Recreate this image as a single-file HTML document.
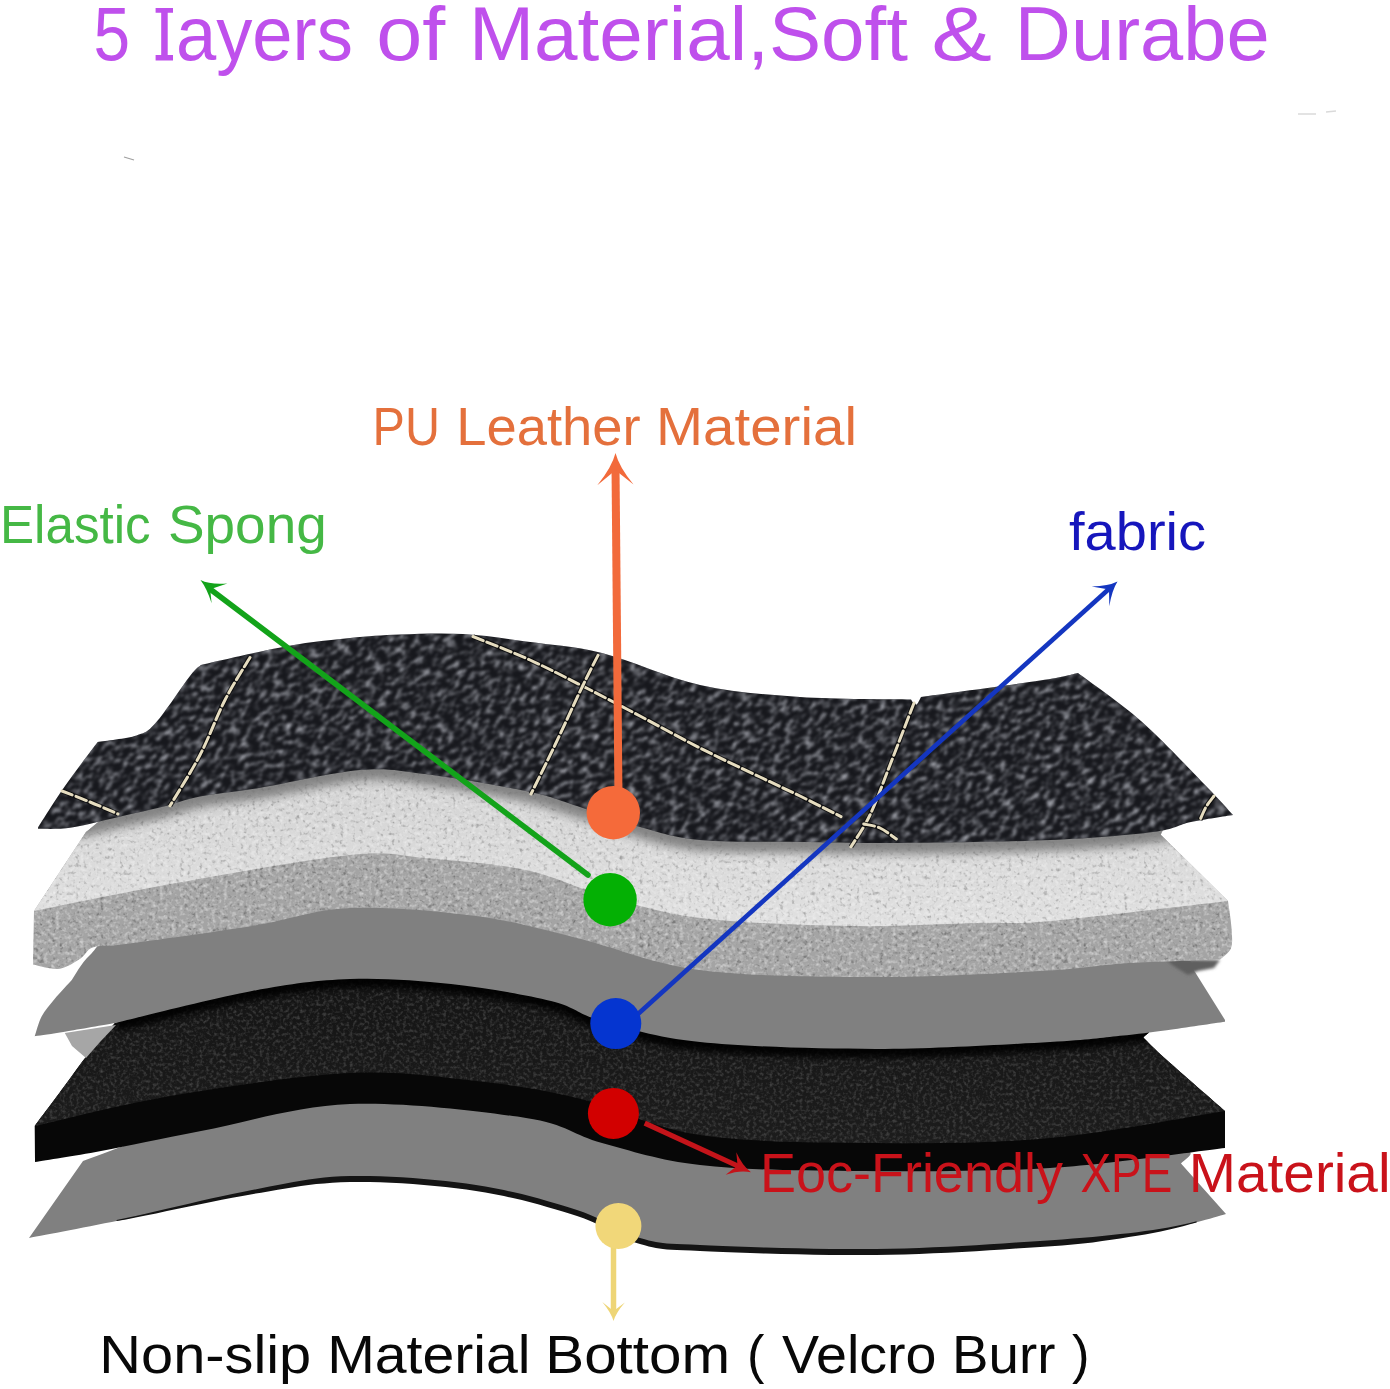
<!DOCTYPE html>
<html><head><meta charset="utf-8">
<style>
html,body{margin:0;padding:0;background:#fff;width:1390px;height:1389px;overflow:hidden}
svg{position:absolute;left:0;top:0;display:block}
text{font-family:"Liberation Sans",sans-serif}
</style></head>
<body>
<svg width="1390" height="1389" viewBox="0 0 1390 1389">


<defs>
<filter id="tLeather" filterUnits="userSpaceOnUse" x="-200" y="200" width="1800" height="1100">
  <feTurbulence type="fractalNoise" baseFrequency="0.11 0.2" numOctaves="3" seed="7" result="n"/>
  <feColorMatrix in="n" type="matrix" values="0 0 0 0 0.34  0 0 0 0 0.35  0 0 0 0 0.39  2.6 0 0 0 -1.18" result="c"/>
  <feGaussianBlur in="c" stdDeviation="0.9" result="cb"/>
  <feComposite in="cb" in2="SourceGraphic" operator="in"/>
</filter>
<clipPath id="cLeather"><path d="M38.0,827.5 C42.5,820.6 55.0,800.2 65.0,786.0 C75.0,771.8 92.2,749.3 97.7,742.0 C104.2,740.9 126.9,738.7 136.6,735.5 C146.3,732.3 147.1,732.5 156.0,722.6 C164.9,712.7 182.5,685.6 190.0,676.0 C197.5,666.4 199.2,666.8 201.0,665.0 C215.5,661.8 263.2,650.5 288.0,646.0 C312.8,641.5 331.3,639.9 350.0,638.0 C368.7,636.1 381.2,635.2 400.0,634.5 C418.8,633.8 442.0,632.8 463.0,634.0 C484.0,635.2 502.8,638.3 526.0,641.5 C549.2,644.7 573.0,645.8 602.0,653.0 C631.0,660.2 667.0,677.7 700.0,685.0 C733.0,692.3 764.8,694.6 800.0,697.0 C835.2,699.4 892.5,699.1 911.0,699.5 C911.8,700.4 914.3,705.4 916.0,705.0 C917.7,704.6 920.2,698.3 921.0,697.0 C940.8,694.3 1013.8,684.6 1040.0,680.6 C1066.2,676.6 1071.7,674.3 1078.0,673.0 C1088.5,681.0 1119.7,702.2 1141.0,721.0 C1162.3,739.8 1190.7,770.3 1206.0,786.0 C1221.3,801.7 1228.5,810.2 1233.0,815.0 C1226.0,816.2 1204.3,819.2 1191.0,822.0 C1177.7,824.8 1176.5,829.0 1153.0,832.0 C1129.5,835.0 1092.0,838.2 1050.0,840.0 C1008.0,841.8 942.7,842.7 901.0,843.0 C859.3,843.3 833.5,842.5 800.0,842.0 C766.5,841.5 726.7,842.5 700.0,840.0 C673.3,837.5 660.5,832.7 640.0,827.0 C619.5,821.3 596.0,812.0 577.0,806.0 C558.0,800.0 551.3,796.3 526.0,791.0 C500.7,785.7 452.7,777.5 425.0,774.0 C397.3,770.5 387.7,767.7 360.0,770.0 C332.3,772.3 285.7,783.6 259.0,788.0 C232.3,792.4 216.1,793.3 200.0,796.4 C183.9,799.5 175.2,803.6 162.5,806.8 C149.8,810.0 138.7,812.3 123.6,815.8 C108.5,819.2 86.1,825.3 71.8,827.5 C57.5,829.7 43.6,828.6 38.0,828.8 Z"/></clipPath>
<filter id="tFoam" filterUnits="userSpaceOnUse" x="0" y="730" width="1390" height="270">
  <feTurbulence type="fractalNoise" baseFrequency="0.25" numOctaves="2" seed="11" result="n"/>
  <feColorMatrix in="n" type="matrix" values="0 0 0 0 1  0 0 0 0 1  0 0 0 0 1  2.2 0 0 0 -1.0" result="w"/>
  <feGaussianBlur in="w" stdDeviation="0.6" result="wb"/>
  <feComposite in="wb" in2="SourceGraphic" operator="in" result="wc"/>
  <feTurbulence type="fractalNoise" baseFrequency="0.25" numOctaves="2" seed="23" result="n2"/>
  <feColorMatrix in="n2" type="matrix" values="0 0 0 0 0  0 0 0 0 0  0 0 0 0 0  1.6 0 0 0 -0.85" result="b"/>
  <feGaussianBlur in="b" stdDeviation="0.6" result="bb"/>
  <feComposite in="bb" in2="SourceGraphic" operator="in" result="bc"/>
  <feMerge><feMergeNode in="wc"/><feMergeNode in="bc"/></feMerge>
</filter>
<filter id="tXpe" filterUnits="userSpaceOnUse" x="0" y="960" width="1390" height="220">
  <feTurbulence type="fractalNoise" baseFrequency="0.3" numOctaves="2" seed="5" result="n"/>
  <feColorMatrix in="n" type="matrix" values="0 0 0 0 0.2  0 0 0 0 0.2  0 0 0 0 0.2  1.0 0 0 0 -0.45" result="c"/>
  <feGaussianBlur in="c" stdDeviation="0.7" result="cb"/>
  <feComposite in="cb" in2="SourceGraphic" operator="in"/>
</filter>
<clipPath id="cFoamTop"><path d="M86.0,832.0 C92.3,827.7 105.0,813.7 124.0,806.0 C143.0,798.3 177.5,790.7 200.0,786.0 C222.5,781.3 232.3,782.3 259.0,778.0 C285.7,773.7 332.3,762.3 360.0,760.0 C387.7,757.7 397.3,760.5 425.0,764.0 C452.7,767.5 500.7,775.7 526.0,781.0 C551.3,786.3 558.0,790.0 577.0,796.0 C596.0,802.0 619.5,811.3 640.0,817.0 C660.5,822.7 673.3,827.5 700.0,830.0 C726.7,832.5 766.5,831.5 800.0,832.0 C833.5,832.5 859.3,833.3 901.0,833.0 C942.7,832.7 1008.0,831.8 1050.0,830.0 C1092.0,828.2 1134.5,821.2 1153.0,822.0 C1171.5,822.8 1159.7,832.8 1161.0,835.0 L1228.0,901.0 C1198.3,904.3 1091.8,917.3 1050.0,921.0 C1008.2,924.7 1010.2,922.2 977.0,923.0 C943.8,923.8 897.2,926.8 851.0,926.0 C804.8,925.2 741.5,923.2 700.0,918.0 C658.5,912.8 631.0,903.0 602.0,895.0 C573.0,887.0 555.5,876.2 526.0,870.0 C496.5,863.8 454.3,860.5 425.0,858.0 C395.7,855.5 391.5,850.8 350.0,855.0 C308.5,859.2 228.7,873.7 176.0,883.0 C123.3,892.3 57.7,906.3 34.0,911.0 L86.0,832.0 Z"/></clipPath>
<clipPath id="cXpeTop"><path d="M115.0,1023.0 C137.8,1016.0 212.8,990.0 252.0,981.0 C291.2,972.0 316.8,970.2 350.0,969.0 C383.2,967.8 417.5,970.3 451.0,974.0 C484.5,977.7 525.8,984.8 551.0,991.0 C576.2,997.2 577.2,1004.2 602.0,1011.0 C626.8,1017.8 654.3,1027.3 700.0,1032.0 C745.7,1036.7 817.7,1039.0 876.0,1039.0 C934.3,1039.0 1005.4,1034.0 1050.0,1032.0 C1094.6,1030.0 1127.8,1026.0 1143.4,1027.0 C1159.0,1028.0 1143.4,1035.9 1143.4,1037.7 C1147.3,1041.4 1153.2,1047.8 1166.8,1060.0 C1180.4,1072.2 1215.3,1102.5 1225.0,1111.0 C1195.8,1115.5 1108.2,1132.7 1050.0,1138.0 C991.8,1143.3 934.3,1143.5 876.0,1143.0 C817.7,1142.5 749.8,1142.5 700.0,1135.0 C650.2,1127.5 614.3,1107.0 577.0,1098.0 C539.7,1089.0 513.8,1085.2 476.0,1081.0 C438.2,1076.8 400.0,1070.7 350.0,1073.0 C300.0,1075.3 228.6,1086.2 176.0,1095.0 C123.4,1103.8 58.2,1120.8 34.7,1126.0 C39.4,1119.7 54.0,1100.2 63.0,1088.0 C72.0,1075.8 80.3,1063.8 89.0,1053.0 C97.7,1042.2 110.7,1028.0 115.0,1023.0 Z"/></clipPath>
<clipPath id="cFabric"><path d="M71.8,980.0 C74.8,975.8 81.0,963.3 90.0,955.0 C99.0,946.7 99.0,937.2 126.0,930.0 C153.0,922.8 214.7,918.0 252.0,912.0 C289.3,906.0 312.7,895.7 350.0,894.0 C387.3,892.3 438.2,897.0 476.0,902.0 C513.8,907.0 539.7,915.0 577.0,924.0 C614.3,933.0 650.2,949.5 700.0,956.0 C749.8,962.5 819.3,962.8 876.0,963.0 C932.7,963.2 991.5,960.2 1040.0,957.0 C1088.5,953.8 1141.0,941.5 1166.8,944.0 C1192.6,946.5 1190.3,967.3 1195.0,972.0 L1225.0,1020.0 L1225.0,1021.8 C1215.3,1023.2 1184.3,1027.9 1166.8,1030.2 C1149.3,1032.5 1139.5,1033.8 1120.0,1035.8 C1100.5,1037.8 1090.7,1039.8 1050.0,1042.0 C1009.3,1044.2 934.3,1049.0 876.0,1049.0 C817.7,1049.0 745.7,1046.7 700.0,1042.0 C654.3,1037.3 626.8,1027.8 602.0,1021.0 C577.2,1014.2 576.2,1007.2 551.0,1001.0 C525.8,994.8 484.5,987.7 451.0,984.0 C417.5,980.3 383.2,977.8 350.0,979.0 C316.8,980.2 291.2,983.7 252.0,991.0 C212.8,998.3 137.8,1017.7 115.0,1023.0 C106.6,1024.5 78.0,1029.5 64.8,1031.7 C51.6,1033.9 40.5,1035.3 35.6,1036.0 L34.7,1036.3 C35.9,1033.0 38.3,1022.6 41.6,1016.4 C44.9,1010.2 49.6,1005.1 54.6,999.0 C59.6,992.9 68.9,983.2 71.8,980.0 Z"/></clipPath>
<filter id="blur5" x="-10%" y="-50%" width="120%" height="200%"><feGaussianBlur stdDeviation="5"/></filter>
<filter id="blur1" x="-20%" y="-50%" width="140%" height="200%"><feGaussianBlur stdDeviation="1.5"/></filter>
<filter id="blur3" x="-10%" y="-50%" width="120%" height="200%"><feGaussianBlur stdDeviation="3"/></filter>
<linearGradient id="gFoamTop" x1="0" y1="0" x2="0" y2="1">
  <stop offset="0" stop-color="#d2d2d2"/>
  <stop offset="1" stop-color="#e0e0e0"/>
</linearGradient>
<linearGradient id="gXpeTop" x1="0" y1="0" x2="0" y2="1">
  <stop offset="0" stop-color="#141414"/>
  <stop offset="1" stop-color="#1c1c1c"/>
</linearGradient>
</defs>

<path d="M83.0,1161.0 C102.7,1154.3 156.5,1132.2 201.0,1121.0 C245.5,1109.8 295.8,1096.2 350.0,1094.0 C404.2,1091.8 484.0,1101.5 526.0,1108.0 C568.0,1114.5 573.0,1125.2 602.0,1133.0 C631.0,1140.8 658.5,1150.3 700.0,1155.0 C741.5,1159.7 792.7,1160.5 851.0,1161.0 C909.3,1161.5 995.0,1159.8 1050.0,1158.0 C1105.0,1156.2 1159.2,1149.1 1181.0,1150.0 C1202.8,1150.9 1181.0,1161.2 1181.0,1163.5 L1226.0,1214.0 C1213.8,1217.7 1184.0,1226.5 1153.0,1231.0 C1122.0,1235.5 1086.2,1238.8 1040.0,1242.0 C993.8,1245.2 932.7,1249.3 876.0,1250.0 C819.3,1250.7 739.3,1247.8 700.0,1246.0 C660.7,1244.2 660.5,1244.8 640.0,1239.0 C619.5,1233.2 604.3,1219.8 577.0,1211.0 C549.7,1202.2 513.8,1191.7 476.0,1186.0 C438.2,1180.3 387.3,1176.2 350.0,1177.0 C312.7,1177.8 289.3,1184.0 252.0,1191.0 C214.7,1198.0 163.2,1211.2 126.0,1219.0 C88.8,1226.8 45.2,1234.8 29.0,1238.0 L83.0,1161.0 Z" fill="#808080"/>
<path d="M116.6,1220.0 L126.0,1218.0 L135.6,1215.9 L145.6,1213.7 L156.1,1211.3 L166.9,1208.8 L177.9,1206.3 L188.9,1203.7 L200.0,1201.1 L211.0,1198.6 L221.8,1196.2 L232.3,1194.0 L242.4,1191.9 L252.0,1190.0 L261.1,1188.3 L269.6,1186.6 L277.8,1185.0 L285.7,1183.4 L293.4,1182.0 L301.0,1180.7 L308.6,1179.5 L316.3,1178.4 L324.2,1177.6 L332.4,1176.8 L340.9,1176.3 L350.0,1176.0 L359.6,1175.9 L369.7,1176.0 L380.1,1176.3 L390.9,1176.7 L401.8,1177.3 L412.8,1178.1 L423.9,1179.0 L434.8,1180.0 L445.6,1181.1 L456.1,1182.3 L466.3,1183.6 L476.0,1185.0 L485.4,1186.5 L494.7,1188.2 L503.9,1190.1 L512.9,1192.0 L521.8,1194.1 L530.4,1196.3 L538.9,1198.6 L547.1,1200.9 L555.0,1203.2 L562.7,1205.5 L570.0,1207.8 L577.0,1210.0 L583.6,1212.3 L589.7,1214.7 L595.5,1217.3 L600.9,1219.9 L606.1,1222.5 L611.1,1225.1 L615.9,1227.7 L620.6,1230.1 L625.4,1232.4 L630.1,1234.5 L635.0,1236.4 L640.0,1238.0 L644.7,1239.3 L648.8,1240.4 L652.5,1241.3 L655.9,1242.0 L659.3,1242.6 L662.9,1243.0 L666.9,1243.4 L671.5,1243.7 L676.9,1244.0 L683.3,1244.3 L690.9,1244.6 L700.0,1245.0 L710.6,1245.5 L722.8,1246.0 L736.1,1246.5 L750.5,1247.0 L765.7,1247.5 L781.5,1247.9 L797.6,1248.3 L813.9,1248.7 L830.1,1248.9 L846.0,1249.1 L861.4,1249.1 L876.0,1249.0 L890.2,1248.8 L904.6,1248.4 L919.0,1247.9 L933.4,1247.3 L947.8,1246.7 L961.9,1245.9 L975.9,1245.2 L989.6,1244.3 L1002.9,1243.5 L1015.8,1242.6 L1028.2,1241.8 L1040.0,1241.0 L1051.3,1240.2 L1062.2,1239.4 L1072.8,1238.6 L1082.9,1237.7 L1092.7,1236.9 L1102.2,1236.0 L1111.3,1235.1 L1120.2,1234.1 L1128.8,1233.2 L1137.1,1232.2 L1145.1,1231.1 L1153.0,1230.0 L1160.7,1228.8 L1168.3,1227.4 L1175.8,1226.0 L1183.0,1224.4 L1189.9,1222.9 L1196.6,1221.3 L1196.6,1222.5 L1189.9,1224.3 L1183.0,1226.2 L1175.8,1228.0 L1168.3,1229.8 L1160.7,1231.4 L1153.0,1233.0 L1145.1,1234.4 L1137.1,1235.8 L1128.8,1237.1 L1120.2,1238.5 L1111.3,1239.8 L1102.2,1241.1 L1092.7,1242.4 L1082.9,1243.6 L1072.8,1244.6 L1062.2,1245.4 L1051.3,1246.2 L1040.0,1247.0 L1028.2,1247.8 L1015.8,1248.6 L1002.9,1249.5 L989.6,1250.3 L975.9,1251.2 L961.9,1251.9 L947.8,1252.7 L933.4,1253.3 L919.0,1253.9 L904.6,1254.4 L890.2,1254.8 L876.0,1255.0 L861.4,1255.1 L846.0,1255.1 L830.1,1254.9 L813.9,1254.7 L797.6,1254.3 L781.5,1253.9 L765.7,1253.5 L750.5,1253.0 L736.1,1252.5 L722.8,1252.0 L710.6,1251.5 L700.0,1251.0 L690.9,1250.6 L683.3,1250.3 L676.9,1250.0 L671.5,1249.7 L666.9,1249.4 L662.9,1249.0 L659.3,1248.6 L655.9,1248.0 L652.5,1247.3 L648.8,1246.4 L644.7,1245.3 L640.0,1244.0 L635.0,1242.4 L630.1,1240.5 L625.4,1238.4 L620.6,1236.1 L615.9,1233.7 L611.1,1231.1 L606.1,1228.5 L600.9,1225.9 L595.5,1223.3 L589.7,1220.7 L583.6,1218.3 L577.0,1216.0 L570.0,1213.8 L562.7,1211.5 L555.0,1209.2 L547.1,1206.9 L538.9,1204.6 L530.4,1202.3 L521.8,1200.1 L512.9,1198.0 L503.9,1196.1 L494.7,1194.2 L485.4,1192.5 L476.0,1191.0 L466.3,1189.6 L456.1,1188.3 L445.6,1187.1 L434.8,1186.0 L423.9,1185.0 L412.8,1184.1 L401.8,1183.3 L390.9,1182.7 L380.1,1182.3 L369.7,1182.0 L359.6,1181.9 L350.0,1182.0 L340.9,1182.3 L332.4,1182.8 L324.2,1183.4 L316.3,1184.1 L308.6,1185.0 L301.0,1186.0 L293.4,1187.2 L285.7,1188.4 L277.8,1189.8 L269.6,1191.2 L261.1,1192.7 L252.0,1194.2 L242.4,1195.9 L232.3,1197.7 L221.8,1199.8 L211.0,1201.9 L200.0,1204.2 L188.9,1206.5 L177.9,1208.8 L166.9,1211.1 L156.1,1213.4 L145.6,1215.5 L135.6,1217.5 L126.0,1219.4 L116.6,1221.1 Z" fill="#141414"/>
<path d="M115.0,1023.0 C137.8,1016.0 212.8,990.0 252.0,981.0 C291.2,972.0 316.8,970.2 350.0,969.0 C383.2,967.8 417.5,970.3 451.0,974.0 C484.5,977.7 525.8,984.8 551.0,991.0 C576.2,997.2 577.2,1004.2 602.0,1011.0 C626.8,1017.8 654.3,1027.3 700.0,1032.0 C745.7,1036.7 817.7,1039.0 876.0,1039.0 C934.3,1039.0 1005.4,1034.0 1050.0,1032.0 C1094.6,1030.0 1127.8,1026.0 1143.4,1027.0 C1159.0,1028.0 1143.4,1035.9 1143.4,1037.7 C1147.3,1041.4 1153.2,1047.8 1166.8,1060.0 C1180.4,1072.2 1215.3,1102.5 1225.0,1111.0 L1225.0,1148.0 C1195.8,1151.3 1112.3,1164.2 1050.0,1168.0 C987.7,1171.8 909.3,1171.5 851.0,1171.0 C792.7,1170.5 741.5,1169.7 700.0,1165.0 C658.5,1160.3 631.0,1150.8 602.0,1143.0 C573.0,1135.2 568.0,1124.5 526.0,1118.0 C484.0,1111.5 404.2,1101.8 350.0,1104.0 C295.8,1106.2 242.5,1123.2 201.0,1131.0 C159.5,1138.8 128.7,1145.8 101.0,1151.0 C73.3,1156.2 46.0,1160.2 35.0,1162.0 L34.7,1126.0 C39.4,1119.7 54.0,1100.2 63.0,1088.0 C72.0,1075.8 80.3,1063.8 89.0,1053.0 C97.7,1042.2 110.7,1028.0 115.0,1023.0 Z" fill="#070707"/>
<path d="M115.0,1023.0 C137.8,1016.0 212.8,990.0 252.0,981.0 C291.2,972.0 316.8,970.2 350.0,969.0 C383.2,967.8 417.5,970.3 451.0,974.0 C484.5,977.7 525.8,984.8 551.0,991.0 C576.2,997.2 577.2,1004.2 602.0,1011.0 C626.8,1017.8 654.3,1027.3 700.0,1032.0 C745.7,1036.7 817.7,1039.0 876.0,1039.0 C934.3,1039.0 1005.4,1034.0 1050.0,1032.0 C1094.6,1030.0 1127.8,1026.0 1143.4,1027.0 C1159.0,1028.0 1143.4,1035.9 1143.4,1037.7 C1147.3,1041.4 1153.2,1047.8 1166.8,1060.0 C1180.4,1072.2 1215.3,1102.5 1225.0,1111.0 C1195.8,1115.5 1108.2,1132.7 1050.0,1138.0 C991.8,1143.3 934.3,1143.5 876.0,1143.0 C817.7,1142.5 749.8,1142.5 700.0,1135.0 C650.2,1127.5 614.3,1107.0 577.0,1098.0 C539.7,1089.0 513.8,1085.2 476.0,1081.0 C438.2,1076.8 400.0,1070.7 350.0,1073.0 C300.0,1075.3 228.6,1086.2 176.0,1095.0 C123.4,1103.8 58.2,1120.8 34.7,1126.0 C39.4,1119.7 54.0,1100.2 63.0,1088.0 C72.0,1075.8 80.3,1063.8 89.0,1053.0 C97.7,1042.2 110.7,1028.0 115.0,1023.0 Z" fill="url(#gXpeTop)"/>
<path d="M115.0,1023.0 C137.8,1016.0 212.8,990.0 252.0,981.0 C291.2,972.0 316.8,970.2 350.0,969.0 C383.2,967.8 417.5,970.3 451.0,974.0 C484.5,977.7 525.8,984.8 551.0,991.0 C576.2,997.2 577.2,1004.2 602.0,1011.0 C626.8,1017.8 654.3,1027.3 700.0,1032.0 C745.7,1036.7 817.7,1039.0 876.0,1039.0 C934.3,1039.0 1005.4,1034.0 1050.0,1032.0 C1094.6,1030.0 1127.8,1026.0 1143.4,1027.0 C1159.0,1028.0 1143.4,1035.9 1143.4,1037.7 C1147.3,1041.4 1153.2,1047.8 1166.8,1060.0 C1180.4,1072.2 1215.3,1102.5 1225.0,1111.0 C1195.8,1115.5 1108.2,1132.7 1050.0,1138.0 C991.8,1143.3 934.3,1143.5 876.0,1143.0 C817.7,1142.5 749.8,1142.5 700.0,1135.0 C650.2,1127.5 614.3,1107.0 577.0,1098.0 C539.7,1089.0 513.8,1085.2 476.0,1081.0 C438.2,1076.8 400.0,1070.7 350.0,1073.0 C300.0,1075.3 228.6,1086.2 176.0,1095.0 C123.4,1103.8 58.2,1120.8 34.7,1126.0 C39.4,1119.7 54.0,1100.2 63.0,1088.0 C72.0,1075.8 80.3,1063.8 89.0,1053.0 C97.7,1042.2 110.7,1028.0 115.0,1023.0 Z" fill="#000" filter="url(#tXpe)"/>
<g clip-path="url(#cXpeTop)"><path d="M1225.0,1021.8 C1215.3,1023.2 1184.3,1027.9 1166.8,1030.2 C1149.3,1032.5 1139.5,1033.8 1120.0,1035.8 C1100.5,1037.8 1090.7,1039.8 1050.0,1042.0 C1009.3,1044.2 934.3,1049.0 876.0,1049.0 C817.7,1049.0 745.7,1046.7 700.0,1042.0 C654.3,1037.3 626.8,1027.8 602.0,1021.0 C577.2,1014.2 576.2,1007.2 551.0,1001.0 C525.8,994.8 484.5,987.7 451.0,984.0 C417.5,980.3 383.2,977.8 350.0,979.0 C316.8,980.2 291.2,983.7 252.0,991.0 C212.8,998.3 137.8,1017.7 115.0,1023.0" fill="none" stroke="#000" stroke-width="18" filter="url(#blur3)" opacity="0.9"/></g>
<path d="M71.8,980.0 C74.8,975.8 81.0,963.3 90.0,955.0 C99.0,946.7 99.0,937.2 126.0,930.0 C153.0,922.8 214.7,918.0 252.0,912.0 C289.3,906.0 312.7,895.7 350.0,894.0 C387.3,892.3 438.2,897.0 476.0,902.0 C513.8,907.0 539.7,915.0 577.0,924.0 C614.3,933.0 650.2,949.5 700.0,956.0 C749.8,962.5 819.3,962.8 876.0,963.0 C932.7,963.2 991.5,960.2 1040.0,957.0 C1088.5,953.8 1141.0,941.5 1166.8,944.0 C1192.6,946.5 1190.3,967.3 1195.0,972.0 L1225.0,1020.0 L1225.0,1021.8 C1215.3,1023.2 1184.3,1027.9 1166.8,1030.2 C1149.3,1032.5 1139.5,1033.8 1120.0,1035.8 C1100.5,1037.8 1090.7,1039.8 1050.0,1042.0 C1009.3,1044.2 934.3,1049.0 876.0,1049.0 C817.7,1049.0 745.7,1046.7 700.0,1042.0 C654.3,1037.3 626.8,1027.8 602.0,1021.0 C577.2,1014.2 576.2,1007.2 551.0,1001.0 C525.8,994.8 484.5,987.7 451.0,984.0 C417.5,980.3 383.2,977.8 350.0,979.0 C316.8,980.2 291.2,983.7 252.0,991.0 C212.8,998.3 137.8,1017.7 115.0,1023.0 C106.6,1024.5 78.0,1029.5 64.8,1031.7 C51.6,1033.9 40.5,1035.3 35.6,1036.0 L34.7,1036.3 C35.9,1033.0 38.3,1022.6 41.6,1016.4 C44.9,1010.2 49.6,1005.1 54.6,999.0 C59.6,992.9 68.9,983.2 71.8,980.0 Z" fill="#808080"/>
<path d="M64.8,1033 L116,1025 L100,1042 L86,1058 L72,1046 Z" fill="#a6a6a6"/>
<path d="M1166,959 L1220,960 L1214,968 L1198,971 L1188,975 L1172,965 Z" fill="#5e5e5e" filter="url(#blur1)"/>
<path d="M86.0,832.0 C92.3,827.7 105.0,813.7 124.0,806.0 C143.0,798.3 177.5,790.7 200.0,786.0 C222.5,781.3 232.3,782.3 259.0,778.0 C285.7,773.7 332.3,762.3 360.0,760.0 C387.7,757.7 397.3,760.5 425.0,764.0 C452.7,767.5 500.7,775.7 526.0,781.0 C551.3,786.3 558.0,790.0 577.0,796.0 C596.0,802.0 619.5,811.3 640.0,817.0 C660.5,822.7 673.3,827.5 700.0,830.0 C726.7,832.5 766.5,831.5 800.0,832.0 C833.5,832.5 859.3,833.3 901.0,833.0 C942.7,832.7 1008.0,831.8 1050.0,830.0 C1092.0,828.2 1134.5,821.2 1153.0,822.0 C1171.5,822.8 1159.7,832.8 1161.0,835.0 L1228.0,901.0 C1228.6,905.5 1231.0,920.2 1231.5,928.0 C1232.0,935.8 1232.9,942.8 1231.0,948.0 C1229.1,953.2 1221.8,957.6 1220.0,959.5 C1213.3,959.8 1196.7,960.3 1180.0,961.0 C1163.3,961.7 1143.3,962.0 1120.0,963.7 C1096.7,965.4 1080.7,968.8 1040.0,971.0 C999.3,973.2 932.7,977.2 876.0,977.0 C819.3,976.8 749.8,976.5 700.0,970.0 C650.2,963.5 614.3,947.0 577.0,938.0 C539.7,929.0 513.8,921.0 476.0,916.0 C438.2,911.0 387.3,906.3 350.0,908.0 C312.7,909.7 289.3,920.0 252.0,926.0 C214.7,932.0 152.4,940.5 126.0,944.0 C99.6,947.5 101.0,944.9 93.4,947.3 C85.8,949.7 86.2,954.9 80.5,958.5 C74.8,962.1 66.8,967.9 58.9,968.9 C51.0,969.9 37.3,965.3 33.0,964.6 L34.0,911.0 L86.0,832.0 Z" fill="#a4a4a4"/>
<path d="M86.0,832.0 C92.3,827.7 105.0,813.7 124.0,806.0 C143.0,798.3 177.5,790.7 200.0,786.0 C222.5,781.3 232.3,782.3 259.0,778.0 C285.7,773.7 332.3,762.3 360.0,760.0 C387.7,757.7 397.3,760.5 425.0,764.0 C452.7,767.5 500.7,775.7 526.0,781.0 C551.3,786.3 558.0,790.0 577.0,796.0 C596.0,802.0 619.5,811.3 640.0,817.0 C660.5,822.7 673.3,827.5 700.0,830.0 C726.7,832.5 766.5,831.5 800.0,832.0 C833.5,832.5 859.3,833.3 901.0,833.0 C942.7,832.7 1008.0,831.8 1050.0,830.0 C1092.0,828.2 1134.5,821.2 1153.0,822.0 C1171.5,822.8 1159.7,832.8 1161.0,835.0 L1228.0,901.0 C1228.6,905.5 1231.0,920.2 1231.5,928.0 C1232.0,935.8 1232.9,942.8 1231.0,948.0 C1229.1,953.2 1221.8,957.6 1220.0,959.5 C1213.3,959.8 1196.7,960.3 1180.0,961.0 C1163.3,961.7 1143.3,962.0 1120.0,963.7 C1096.7,965.4 1080.7,968.8 1040.0,971.0 C999.3,973.2 932.7,977.2 876.0,977.0 C819.3,976.8 749.8,976.5 700.0,970.0 C650.2,963.5 614.3,947.0 577.0,938.0 C539.7,929.0 513.8,921.0 476.0,916.0 C438.2,911.0 387.3,906.3 350.0,908.0 C312.7,909.7 289.3,920.0 252.0,926.0 C214.7,932.0 152.4,940.5 126.0,944.0 C99.6,947.5 101.0,944.9 93.4,947.3 C85.8,949.7 86.2,954.9 80.5,958.5 C74.8,962.1 66.8,967.9 58.9,968.9 C51.0,969.9 37.3,965.3 33.0,964.6 L34.0,911.0 L86.0,832.0 Z" fill="#000" filter="url(#tFoam)" opacity="0.5"/>
<path d="M86.0,832.0 C92.3,827.7 105.0,813.7 124.0,806.0 C143.0,798.3 177.5,790.7 200.0,786.0 C222.5,781.3 232.3,782.3 259.0,778.0 C285.7,773.7 332.3,762.3 360.0,760.0 C387.7,757.7 397.3,760.5 425.0,764.0 C452.7,767.5 500.7,775.7 526.0,781.0 C551.3,786.3 558.0,790.0 577.0,796.0 C596.0,802.0 619.5,811.3 640.0,817.0 C660.5,822.7 673.3,827.5 700.0,830.0 C726.7,832.5 766.5,831.5 800.0,832.0 C833.5,832.5 859.3,833.3 901.0,833.0 C942.7,832.7 1008.0,831.8 1050.0,830.0 C1092.0,828.2 1134.5,821.2 1153.0,822.0 C1171.5,822.8 1159.7,832.8 1161.0,835.0 L1228.0,901.0 C1198.3,904.3 1091.8,917.3 1050.0,921.0 C1008.2,924.7 1010.2,922.2 977.0,923.0 C943.8,923.8 897.2,926.8 851.0,926.0 C804.8,925.2 741.5,923.2 700.0,918.0 C658.5,912.8 631.0,903.0 602.0,895.0 C573.0,887.0 555.5,876.2 526.0,870.0 C496.5,863.8 454.3,860.5 425.0,858.0 C395.7,855.5 391.5,850.8 350.0,855.0 C308.5,859.2 228.7,873.7 176.0,883.0 C123.3,892.3 57.7,906.3 34.0,911.0 L86.0,832.0 Z" fill="url(#gFoamTop)"/>
<path d="M86.0,832.0 C92.3,827.7 105.0,813.7 124.0,806.0 C143.0,798.3 177.5,790.7 200.0,786.0 C222.5,781.3 232.3,782.3 259.0,778.0 C285.7,773.7 332.3,762.3 360.0,760.0 C387.7,757.7 397.3,760.5 425.0,764.0 C452.7,767.5 500.7,775.7 526.0,781.0 C551.3,786.3 558.0,790.0 577.0,796.0 C596.0,802.0 619.5,811.3 640.0,817.0 C660.5,822.7 673.3,827.5 700.0,830.0 C726.7,832.5 766.5,831.5 800.0,832.0 C833.5,832.5 859.3,833.3 901.0,833.0 C942.7,832.7 1008.0,831.8 1050.0,830.0 C1092.0,828.2 1134.5,821.2 1153.0,822.0 C1171.5,822.8 1159.7,832.8 1161.0,835.0 L1228.0,901.0 C1198.3,904.3 1091.8,917.3 1050.0,921.0 C1008.2,924.7 1010.2,922.2 977.0,923.0 C943.8,923.8 897.2,926.8 851.0,926.0 C804.8,925.2 741.5,923.2 700.0,918.0 C658.5,912.8 631.0,903.0 602.0,895.0 C573.0,887.0 555.5,876.2 526.0,870.0 C496.5,863.8 454.3,860.5 425.0,858.0 C395.7,855.5 391.5,850.8 350.0,855.0 C308.5,859.2 228.7,873.7 176.0,883.0 C123.3,892.3 57.7,906.3 34.0,911.0 L86.0,832.0 Z" fill="#000" filter="url(#tFoam)" opacity="0.45"/>
<g clip-path="url(#cFoamTop)"><path d="M1233.0,815.0 C1226.0,816.2 1204.3,819.2 1191.0,822.0 C1177.7,824.8 1176.5,829.0 1153.0,832.0 C1129.5,835.0 1092.0,838.2 1050.0,840.0 C1008.0,841.8 942.7,842.7 901.0,843.0 C859.3,843.3 833.5,842.5 800.0,842.0 C766.5,841.5 726.7,842.5 700.0,840.0 C673.3,837.5 660.5,832.7 640.0,827.0 C619.5,821.3 596.0,812.0 577.0,806.0 C558.0,800.0 551.3,796.3 526.0,791.0 C500.7,785.7 452.7,777.5 425.0,774.0 C397.3,770.5 387.7,767.7 360.0,770.0 C332.3,772.3 285.7,783.6 259.0,788.0 C232.3,792.4 216.1,793.3 200.0,796.4 C183.9,799.5 175.2,803.6 162.5,806.8 C149.8,810.0 138.7,812.3 123.6,815.8 C108.5,819.2 86.1,825.3 71.8,827.5 C57.5,829.7 43.6,828.6 38.0,828.8" fill="none" stroke="#6e6e6e" stroke-width="22" filter="url(#blur5)" opacity="0.8"/></g>
<path d="M38.0,827.5 C42.5,820.6 55.0,800.2 65.0,786.0 C75.0,771.8 92.2,749.3 97.7,742.0 C104.2,740.9 126.9,738.7 136.6,735.5 C146.3,732.3 147.1,732.5 156.0,722.6 C164.9,712.7 182.5,685.6 190.0,676.0 C197.5,666.4 199.2,666.8 201.0,665.0 C215.5,661.8 263.2,650.5 288.0,646.0 C312.8,641.5 331.3,639.9 350.0,638.0 C368.7,636.1 381.2,635.2 400.0,634.5 C418.8,633.8 442.0,632.8 463.0,634.0 C484.0,635.2 502.8,638.3 526.0,641.5 C549.2,644.7 573.0,645.8 602.0,653.0 C631.0,660.2 667.0,677.7 700.0,685.0 C733.0,692.3 764.8,694.6 800.0,697.0 C835.2,699.4 892.5,699.1 911.0,699.5 C911.8,700.4 914.3,705.4 916.0,705.0 C917.7,704.6 920.2,698.3 921.0,697.0 C940.8,694.3 1013.8,684.6 1040.0,680.6 C1066.2,676.6 1071.7,674.3 1078.0,673.0 C1088.5,681.0 1119.7,702.2 1141.0,721.0 C1162.3,739.8 1190.7,770.3 1206.0,786.0 C1221.3,801.7 1228.5,810.2 1233.0,815.0 C1226.0,816.2 1204.3,819.2 1191.0,822.0 C1177.7,824.8 1176.5,829.0 1153.0,832.0 C1129.5,835.0 1092.0,838.2 1050.0,840.0 C1008.0,841.8 942.7,842.7 901.0,843.0 C859.3,843.3 833.5,842.5 800.0,842.0 C766.5,841.5 726.7,842.5 700.0,840.0 C673.3,837.5 660.5,832.7 640.0,827.0 C619.5,821.3 596.0,812.0 577.0,806.0 C558.0,800.0 551.3,796.3 526.0,791.0 C500.7,785.7 452.7,777.5 425.0,774.0 C397.3,770.5 387.7,767.7 360.0,770.0 C332.3,772.3 285.7,783.6 259.0,788.0 C232.3,792.4 216.1,793.3 200.0,796.4 C183.9,799.5 175.2,803.6 162.5,806.8 C149.8,810.0 138.7,812.3 123.6,815.8 C108.5,819.2 86.1,825.3 71.8,827.5 C57.5,829.7 43.6,828.6 38.0,828.8 Z" fill="#17181d"/>
<g clip-path="url(#cLeather)"><g transform="rotate(-35 640 740)"><rect x="-100" y="300" width="1500" height="900" fill="#000" filter="url(#tLeather)"/></g></g>
<path d="M62.0,791.0 C66.7,792.8 80.7,798.2 90.0,802.0 C99.3,805.8 113.3,812.0 118.0,814.0" fill="none" stroke="#050505" stroke-width="5" opacity="0.75"/><path d="M62.0,791.0 C66.7,792.8 80.7,798.2 90.0,802.0 C99.3,805.8 113.3,812.0 118.0,814.0" fill="none" stroke="#e6ddc0" stroke-width="3" stroke-dasharray="11 4" stroke-linecap="round"/>
<path d="M250.0,657.6 C245.8,664.7 233.3,683.8 225.0,700.0 C216.7,716.2 209.2,737.4 200.0,755.0 C190.8,772.6 175.0,797.3 170.0,805.8" fill="none" stroke="#050505" stroke-width="5" opacity="0.75"/><path d="M250.0,657.6 C245.8,664.7 233.3,683.8 225.0,700.0 C216.7,716.2 209.2,737.4 200.0,755.0 C190.8,772.6 175.0,797.3 170.0,805.8" fill="none" stroke="#e6ddc0" stroke-width="3" stroke-dasharray="11 4" stroke-linecap="round"/>
<path d="M473.0,636.5 C482.5,640.4 511.9,651.8 530.0,660.0 C548.1,668.2 563.4,676.3 581.7,685.6 C600.0,694.9 620.3,705.6 640.0,716.0 C659.7,726.4 680.0,737.8 700.0,748.0 C720.0,758.2 743.3,769.0 760.0,777.0 C776.7,785.0 786.5,789.4 800.0,796.0 C813.5,802.6 834.2,813.2 841.0,816.6" fill="none" stroke="#050505" stroke-width="5" opacity="0.75"/><path d="M473.0,636.5 C482.5,640.4 511.9,651.8 530.0,660.0 C548.1,668.2 563.4,676.3 581.7,685.6 C600.0,694.9 620.3,705.6 640.0,716.0 C659.7,726.4 680.0,737.8 700.0,748.0 C720.0,758.2 743.3,769.0 760.0,777.0 C776.7,785.0 786.5,789.4 800.0,796.0 C813.5,802.6 834.2,813.2 841.0,816.6" fill="none" stroke="#e6ddc0" stroke-width="3" stroke-dasharray="11 4" stroke-linecap="round"/>
<path d="M598.0,655.4 C596.3,658.7 591.3,668.3 588.0,675.0 C584.7,681.7 583.5,684.0 578.0,695.7 C572.5,707.4 562.8,728.6 555.0,745.0 C547.2,761.4 535.0,785.8 531.0,794.0" fill="none" stroke="#050505" stroke-width="5" opacity="0.75"/><path d="M598.0,655.4 C596.3,658.7 591.3,668.3 588.0,675.0 C584.7,681.7 583.5,684.0 578.0,695.7 C572.5,707.4 562.8,728.6 555.0,745.0 C547.2,761.4 535.0,785.8 531.0,794.0" fill="none" stroke="#e6ddc0" stroke-width="3" stroke-dasharray="11 4" stroke-linecap="round"/>
<path d="M914.0,703.0 C910.0,713.3 897.3,746.3 890.0,765.0 C882.7,783.7 876.5,801.4 870.0,815.0 C863.5,828.6 854.2,841.5 851.0,846.8" fill="none" stroke="#050505" stroke-width="5" opacity="0.75"/><path d="M914.0,703.0 C910.0,713.3 897.3,746.3 890.0,765.0 C882.7,783.7 876.5,801.4 870.0,815.0 C863.5,828.6 854.2,841.5 851.0,846.8" fill="none" stroke="#e6ddc0" stroke-width="3" stroke-dasharray="11 4" stroke-linecap="round"/>
<path d="M863.7,824.0 C866.4,824.7 874.5,825.5 880.0,828.0 C885.5,830.5 893.7,837.2 896.4,839.0" fill="none" stroke="#050505" stroke-width="5" opacity="0.75"/><path d="M863.7,824.0 C866.4,824.7 874.5,825.5 880.0,828.0 C885.5,830.5 893.7,837.2 896.4,839.0" fill="none" stroke="#e6ddc0" stroke-width="3" stroke-dasharray="11 4" stroke-linecap="round"/>
<path d="M1214.0,796.0 C1212.7,797.8 1208.3,803.0 1206.0,807.0 C1203.7,811.0 1201.0,817.8 1200.0,820.0" fill="none" stroke="#050505" stroke-width="5" opacity="0.75"/><path d="M1214.0,796.0 C1212.7,797.8 1208.3,803.0 1206.0,807.0 C1203.7,811.0 1201.0,817.8 1200.0,820.0" fill="none" stroke="#e6ddc0" stroke-width="3" stroke-dasharray="11 4" stroke-linecap="round"/>

<path d="M615.5,466 L618.5,800" stroke="#f26a3b" stroke-width="8" fill="none"/>
<path d="M615.5,453.0 Q611.9,467.2 597.3,485.3 L615.5,470.2 L633.5,484.5 Q619.1,467.0 615.5,453.0 Z" fill="#f26a3b"/>
<circle cx="613.3" cy="812.7" r="26.7" fill="#f56a3a"/>
<path d="M210,589 L588,875" stroke="#13a31a" stroke-width="5.6" fill="none" stroke-linecap="round"/>
<path d="M200.5,580.0 Q210.2,584.8 227.4,583.4 L210.2,589.2 L211.6,603.3 Q207.1,588.8 200.5,580.0 Z" fill="#13a31a"/>
<circle cx="610.1" cy="899.7" r="26.7" fill="#04b004"/>
<path d="M638,1014 L1110,588" stroke="#1436c0" stroke-width="4.6" fill="none"/>
<path d="M1117.5,581.5 Q1108.5,586.1 1091.7,586.4 L1109.0,589.5 L1109.3,606.3 Q1112.0,590.1 1117.5,581.5 Z" fill="#1436c0"/>
<circle cx="615.8" cy="1023.6" r="25.5" fill="#0535d0"/>
<path d="M644.7,1123.2 L740,1167" stroke="#c4141a" stroke-width="5.2" fill="none"/>
<path d="M751.0,1172.3 Q742.0,1165.2 736.3,1152.2 L737.5,1165.5 L725.7,1174.8 Q739.9,1169.7 751.0,1172.3 Z" fill="#c4141a"/>
<circle cx="613.4" cy="1113.4" r="25.5" fill="#d20000"/>
<path d="M613.5,1240 L613.5,1312" stroke="#eed576" stroke-width="5.5" fill="none"/>
<path d="M613.5,1321.0 Q611.3,1312.7 602.3,1301.9 L613.5,1311.0 L624.9,1302.4 Q615.8,1312.8 613.5,1321.0 Z" fill="#eed576"/>
<circle cx="618.4" cy="1226" r="23" fill="#f1d779"/>
<path d="M124,157 L134,160" stroke="#a0a0a0" stroke-width="1.3"/>
<path d="M1298,114 L1316,114 M1326,112 L1336,111" stroke="#dadada" stroke-width="1.3"/>
<path d="M155.6,8.1 H173 V12.8 H167.7 V54.9 H173 V60.5 H155.6 V54.9 H161.2 V12.8 H155.6 Z" fill="#bf50ec"/>
<text x="93.59" y="60.4" font-size="75.7" fill="#bf50ec" textLength="36.61" lengthAdjust="spacingAndGlyphs">5</text>
<text x="175.93" y="60.4" font-size="75.7" fill="#bf50ec" textLength="176.97" lengthAdjust="spacingAndGlyphs">ayers</text>
<text x="376.32" y="60.4" font-size="75.7" fill="#bf50ec" textLength="69.02" lengthAdjust="spacingAndGlyphs">of</text>
<text x="468.9" y="60.4" font-size="75.7" fill="#bf50ec" textLength="439.16" lengthAdjust="spacingAndGlyphs">Material,Soft</text>
<text x="931.51" y="60.4" font-size="75.7" fill="#bf50ec" textLength="60.37" lengthAdjust="spacingAndGlyphs">&amp;</text>
<text x="1014.84" y="60.4" font-size="75.7" fill="#bf50ec" textLength="254.79" lengthAdjust="spacingAndGlyphs">Durabe</text>
<text x="372.62" y="445.0" font-size="54.2" fill="#e4703c" textLength="67.31" lengthAdjust="spacingAndGlyphs">PU</text>
<text x="456.29" y="445.0" font-size="54.2" fill="#e4703c" textLength="184.31" lengthAdjust="spacingAndGlyphs">Leather</text>
<text x="656.03" y="445.0" font-size="54.2" fill="#e4703c" textLength="200.92" lengthAdjust="spacingAndGlyphs">Material</text>
<text x="-0.08" y="542.6" font-size="54.2" fill="#45b845" textLength="150.8" lengthAdjust="spacingAndGlyphs">Elastic</text>
<text x="167.97" y="542.6" font-size="54.2" fill="#45b845" textLength="158.77" lengthAdjust="spacingAndGlyphs">Spong</text>
<text x="1069.0" y="550.1" font-size="54.5" fill="#1616bc" textLength="137.02" lengthAdjust="spacingAndGlyphs">fabric</text>
<text x="759.94" y="1191.7" font-size="54.6" fill="#c9121a" textLength="303.0" lengthAdjust="spacingAndGlyphs">Eoc-Friendly</text>
<text x="1080.56" y="1191.7" font-size="54.6" fill="#c9121a" textLength="91.73" lengthAdjust="spacingAndGlyphs">XPE</text>
<text x="1188.85" y="1191.7" font-size="54.6" fill="#c9121a" textLength="201.65" lengthAdjust="spacingAndGlyphs">Material</text>
<text x="99.3" y="1372.9" font-size="53.8" fill="#080808" textLength="211.92" lengthAdjust="spacingAndGlyphs">Non-slip</text>
<text x="327.15" y="1372.9" font-size="53.8" fill="#080808" textLength="203.41" lengthAdjust="spacingAndGlyphs">Material</text>
<text x="545.26" y="1372.9" font-size="53.8" fill="#080808" textLength="184.87" lengthAdjust="spacingAndGlyphs">Bottom</text>
<text x="747.08" y="1372.9" font-size="53.8" fill="#080808" textLength="17.44" lengthAdjust="spacingAndGlyphs">(</text>
<text x="781.9" y="1372.9" font-size="53.8" fill="#080808" textLength="154.68" lengthAdjust="spacingAndGlyphs">Velcro</text>
<text x="952.14" y="1372.9" font-size="53.8" fill="#080808" textLength="103.21" lengthAdjust="spacingAndGlyphs">Burr</text>
<text x="1072.0" y="1372.9" font-size="53.8" fill="#080808" textLength="17.56" lengthAdjust="spacingAndGlyphs">)</text>
</svg>
</body></html>
